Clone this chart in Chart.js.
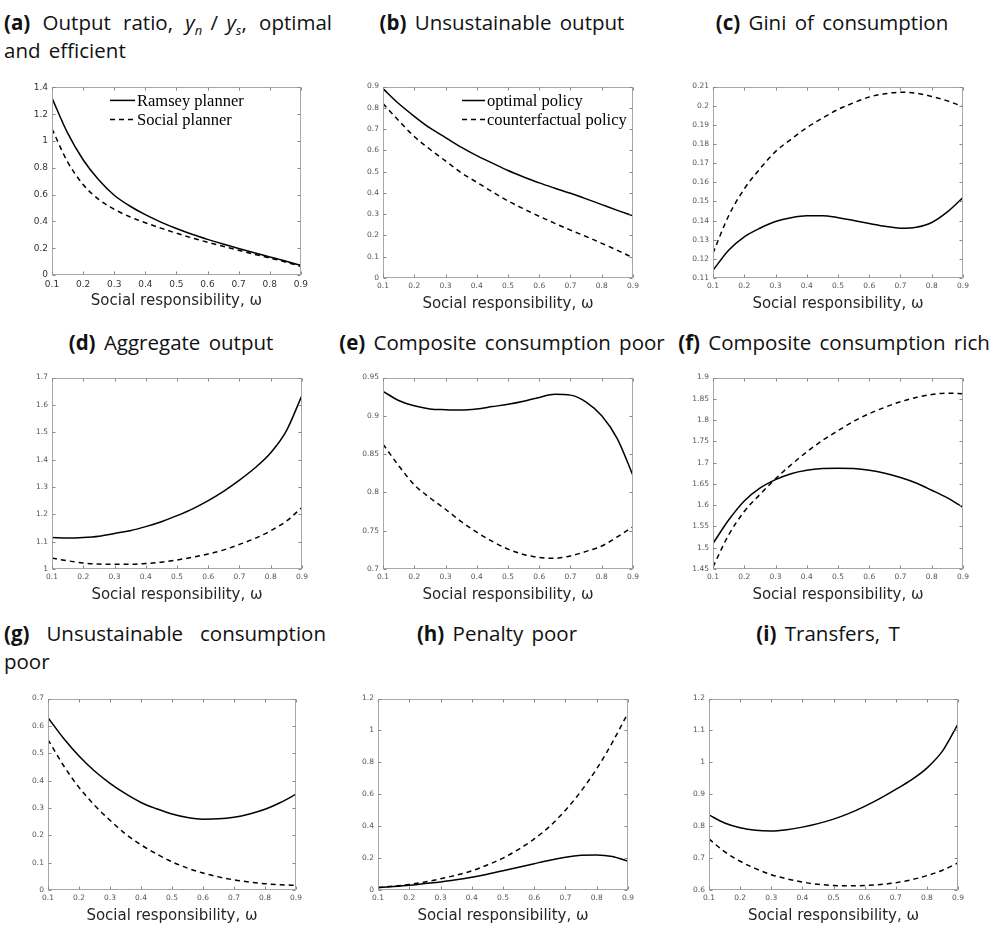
<!DOCTYPE html>
<html><head><meta charset="utf-8">
<script src="https://cdn.jsdelivr.net/npm/chart.js@4.4.1/dist/chart.umd.min.js"></script>
<style>
body{margin:0;background:#fff;width:995px;height:925px;position:relative;overflow:hidden;font-family:"Open Sans","Noto Sans",sans-serif;}
.t{position:absolute;font-size:20.5px;color:#111;white-space:nowrap;word-spacing:3px;line-height:28px;}
.t b{font-weight:700;}
.t sub{font-size:13px;line-height:0;}
.ctr{text-align:center;width:400px;}
.row{display:flex;justify-content:space-between;height:28px;}
.c{position:absolute;}
</style></head><body>
<div class="t" style="left:4px;top:8px;width:328px;"><div class="row"><span><b>(a)</b></span><span>Output</span><span>ratio,</span><span><i>y</i><sub><i>n</i></sub> / <i>y</i><sub><i>s</i></sub>,</span><span>optimal</span></div><div>and efficient</div></div>
<div class="t ctr" style="left:302px;top:8px;"><b>(b)</b> Unsustainable output</div>
<div class="t ctr" style="left:632px;top:8px;"><b>(c)</b> Gini of consumption</div>
<div class="t ctr" style="left:-29px;top:328px;"><b>(d)</b> Aggregate output</div>
<div class="t ctr" style="left:302px;top:328px;"><b>(e)</b> Composite consumption poor</div>
<div class="t ctr" style="left:634px;top:328px;"><b>(f)</b> Composite consumption rich</div>
<div class="t" style="left:4px;top:619px;width:322px;"><div class="row"><span><b>(g)</b></span><span>Unsustainable</span><span>consumption</span></div><div>poor</div></div>
<div class="t ctr" style="left:297px;top:619px;"><b>(h)</b> Penalty poor</div>
<div class="t ctr" style="left:628px;top:619px;"><b>(i)</b> Transfers, T</div>
<script>
// ---- data ----
const omega = [0.1,0.15,0.2,0.25,0.3,0.35,0.4,0.45,0.5,0.55,0.6,0.65,0.7,0.75,0.8,0.85,0.9];
const xTicks = [0.1,0.2,0.3,0.4,0.5,0.6,0.7,0.8,0.9];

const aRamsey = [1.32,1.06,0.86,0.71,0.595,0.515,0.45,0.395,0.347,0.304,0.266,0.231,0.198,0.166,0.135,0.104,0.072];
const aSocial = [1.09,0.845,0.675,0.565,0.49,0.435,0.39,0.35,0.312,0.277,0.245,0.215,0.185,0.155,0.127,0.097,0.064];
const bOptimal = [0.89,0.82,0.76,0.705,0.66,0.615,0.575,0.54,0.505,0.475,0.447,0.422,0.398,0.372,0.345,0.318,0.292];
const bCounter = [0.82,0.74,0.665,0.605,0.55,0.495,0.45,0.405,0.362,0.325,0.29,0.257,0.225,0.195,0.163,0.13,0.095];
const cOptimal = [0.114,0.1245,0.1315,0.136,0.1395,0.1415,0.1425,0.1425,0.1415,0.140,0.1385,0.137,0.136,0.1365,0.139,0.1445,0.152];
const cCounter = [0.123,0.1425,0.1565,0.167,0.176,0.1825,0.1885,0.1935,0.198,0.2015,0.2045,0.2062,0.207,0.2065,0.2048,0.2025,0.1995];
const dOptimal = [1.115,1.113,1.115,1.12,1.13,1.14,1.155,1.173,1.195,1.22,1.25,1.285,1.325,1.37,1.425,1.505,1.635];
const dCounter = [1.04,1.03,1.022,1.018,1.017,1.017,1.02,1.025,1.033,1.043,1.055,1.07,1.09,1.112,1.14,1.175,1.225];
const eOptimal = [0.932,0.92,0.913,0.909,0.908,0.9075,0.909,0.912,0.915,0.919,0.924,0.928,0.927,0.918,0.9,0.87,0.822];
const eCounter = [0.863,0.835,0.81,0.793,0.778,0.762,0.748,0.736,0.726,0.719,0.715,0.714,0.717,0.723,0.73,0.742,0.755];
const fOptimal = [1.51,1.565,1.61,1.64,1.66,1.674,1.682,1.686,1.687,1.686,1.682,1.675,1.665,1.652,1.635,1.617,1.595];
const fCounter = [1.455,1.53,1.585,1.625,1.662,1.695,1.725,1.752,1.775,1.797,1.815,1.83,1.843,1.853,1.86,1.863,1.862];
const gOptimal = [0.63,0.555,0.49,0.435,0.39,0.352,0.32,0.297,0.278,0.265,0.259,0.26,0.266,0.278,0.295,0.32,0.35];
const gCounter = [0.55,0.455,0.375,0.31,0.255,0.205,0.165,0.132,0.103,0.08,0.062,0.048,0.037,0.029,0.023,0.019,0.017];
const hOptimal = [0.015,0.022,0.03,0.04,0.05,0.064,0.08,0.099,0.12,0.142,0.165,0.187,0.205,0.217,0.22,0.21,0.18];
const hCounter = [0.015,0.024,0.035,0.05,0.07,0.093,0.12,0.157,0.2,0.255,0.32,0.4,0.5,0.62,0.76,0.925,1.11];
const iOptimal = [0.835,0.81,0.795,0.787,0.785,0.789,0.797,0.808,0.822,0.84,0.862,0.887,0.915,0.945,0.982,1.035,1.12];
const iCounter = [0.76,0.72,0.69,0.667,0.648,0.635,0.625,0.618,0.614,0.613,0.614,0.617,0.623,0.632,0.645,0.662,0.685];

const yTicksA = [0,0.2,0.4,0.6,0.8,1,1.2,1.4];
const yTicksB = [0,0.1,0.2,0.3,0.4,0.5,0.6,0.7,0.8,0.9];
const yTicksC = [0.11,0.12,0.13,0.14,0.15,0.16,0.17,0.18,0.19,0.2,0.21];
const yTicksD = [1,1.1,1.2,1.3,1.4,1.5,1.6,1.7];
const yTicksE = [0.7,0.75,0.8,0.85,0.9,0.95];
const yTicksF = [1.45,1.5,1.55,1.6,1.65,1.7,1.75,1.8,1.85,1.9];
const yTicksG = [0,0.1,0.2,0.3,0.4,0.5,0.6,0.7];
const yTicksH = [0,0.2,0.4,0.6,0.8,1,1.2];
const yTicksI = [0.6,0.7,0.8,0.9,1,1.1,1.2];

const labelsA = ['Ramsey planner','Social planner'];
const labelsB = ['optimal policy','counterfactual policy'];
const xTitle = 'Social responsibility, \u03c9';

// ---- layout ----
const panels = [
  {rect:[52,86,302,275], s:aRamsey, d:aSocial, yt:yTicksA, lab:labelsA, tf:9, tc:'#333', leg:{dx:58,dy:13,gap:19,len:25}},
  {rect:[383,86,633,278], s:bOptimal, d:bCounter, yt:yTicksB, lab:labelsB, tf:7.5, tc:'#555', leg:{dx:79,dy:14,gap:19,len:23}},
  {rect:[713,86,963,278], s:cOptimal, d:cCounter, yt:yTicksC, tf:7.5, tc:'#555'},
  {rect:[52,377,302,569], s:dOptimal, d:dCounter, yt:yTicksD, tf:7.5, tc:'#555'},
  {rect:[383,377,633,569], s:eOptimal, d:eCounter, yt:yTicksE, tf:7.5, tc:'#555'},
  {rect:[713,377,963,569], s:fOptimal, d:fCounter, yt:yTicksF, tf:7.5, tc:'#555'},
  {rect:[48,698,296,890], s:gOptimal, d:gCounter, yt:yTicksG, tf:7.5, tc:'#555'},
  {rect:[378,698,628,890], s:hOptimal, d:hCounter, yt:yTicksH, tf:7.5, tc:'#555'},
  {rect:[709,698,958,890], s:iOptimal, d:iCounter, yt:yTicksI, tf:7.5, tc:'#555'}
];

const fmt = v => String(parseFloat(Number(v).toFixed(4)));

const framePlugin = {
  id:'frame',
  afterDatasetsDraw(chart){
    const {ctx, chartArea:a, scales:{x,y}} = chart;
    ctx.save();
    ctx.setLineDash([]);
    ctx.strokeStyle = '#a8a8a8'; ctx.lineWidth = 1;
    const L = Math.round(a.left)+0.5, T = Math.round(a.top)+0.5, R = Math.round(a.right)-0.5, B = Math.round(a.bottom)-0.5;
    ctx.strokeRect(L, T, R-L, B-T);
    ctx.strokeStyle = '#888';
    ctx.beginPath();
    x.ticks.forEach(t => { const px = Math.round(x.getPixelForValue(t.value))+0.5; ctx.moveTo(px,B); ctx.lineTo(px,B-3); ctx.moveTo(px,T); ctx.lineTo(px,T+3); });
    y.ticks.forEach(t => { const py = Math.round(y.getPixelForValue(t.value))+0.5; ctx.moveTo(L,py); ctx.lineTo(L+3,py); ctx.moveTo(R,py); ctx.lineTo(R-3,py); });
    ctx.stroke();
    ctx.restore();
  }
};

const legendPlugin = {
  id:'inLegend',
  afterDatasetsDraw(chart, args, opts){
    if (!opts || opts.dx === undefined) return;
    const {ctx, chartArea:a} = chart;
    ctx.save();
    ctx.font = '16.5px "Liberation Serif","DejaVu Serif",serif';
    ctx.textBaseline = 'middle'; ctx.fillStyle = '#000';
    chart.data.datasets.forEach((ds,i) => {
      const y = a.top + opts.dy + i*opts.gap;
      const x0 = a.left + opts.dx;
      ctx.beginPath(); ctx.setLineDash(ds.borderDash || []); ctx.lineWidth = ds.borderWidth; ctx.strokeStyle = ds.borderColor;
      ctx.moveTo(x0, y); ctx.lineTo(x0+opts.len, y); ctx.stroke();
      ctx.setLineDash([]);
      ctx.fillText(ds.label, x0+opts.len+2, y+1);
    });
    ctx.restore();
  }
};

const YW = 45, XH = 39, PT = 8, PR = 10;
panels.forEach(p => {
  const [L,T,R,B] = p.rect;
  const w = R-L+YW+PR, h = B-T+PT+XH;
  const wrap = document.createElement('div');
  wrap.className = 'c';
  wrap.style.left = (L-YW)+'px'; wrap.style.top = (T-PT)+'px';
  wrap.style.width = w+'px'; wrap.style.height = h+'px';
  const cv = document.createElement('canvas');
  cv.width = w; cv.height = h;
  wrap.appendChild(cv); document.body.appendChild(wrap);
  const lab = p.lab || ['optimal policy','counterfactual policy'];
  new Chart(cv, {
    type:'line',
    data:{datasets:[
      {label:lab[0], data:omega.map((x,i)=>({x, y:p.s[i]})), borderColor:'#000', borderWidth:1.5, pointRadius:0, cubicInterpolationMode:'monotone', fill:false},
      {label:lab[1], data:omega.map((x,i)=>({x, y:p.d[i]})), borderColor:'#000', borderWidth:1.5, borderDash:[5,4], pointRadius:0, cubicInterpolationMode:'monotone', fill:false}
    ]},
    options:{
      responsive:false, animation:false, maintainAspectRatio:false,
      layout:{padding:{top:PT,right:PR,left:0,bottom:0}},
      plugins:{legend:{display:false}, tooltip:{enabled:false}, inLegend: p.leg || {}},
      scales:{
        x:{type:'linear', min:0.1, max:0.9,
          afterBuildTicks:s => { s.ticks = xTicks.map(v => ({value:v})); },
          afterFit:s => { s.height = XH; },
          grid:{display:false, drawTicks:false}, border:{display:false},
          ticks:{font:{size:p.tf, family:'"DejaVu Sans"'}, color:p.tc, padding:4, maxRotation:0, autoSkip:false, callback:v => fmt(v)},
          title:{display:true, text:xTitle, font:{size:15, family:'"DejaVu Sans"'}, color:'#262626', padding:{top:0,bottom:4}}
        },
        y:{type:'linear', min:p.yt[0], max:p.yt[p.yt.length-1],
          afterBuildTicks:s => { s.ticks = p.yt.map(v => ({value:v})); },
          afterFit:s => { s.width = YW; },
          grid:{display:false, drawTicks:false}, border:{display:false},
          ticks:{font:{size:p.tf, family:'"DejaVu Sans"'}, color:p.tc, padding:4, autoSkip:false, callback:v => fmt(v)}
        }
      }
    },
    plugins:[framePlugin, legendPlugin]
  });
});
</script>
</body></html>
